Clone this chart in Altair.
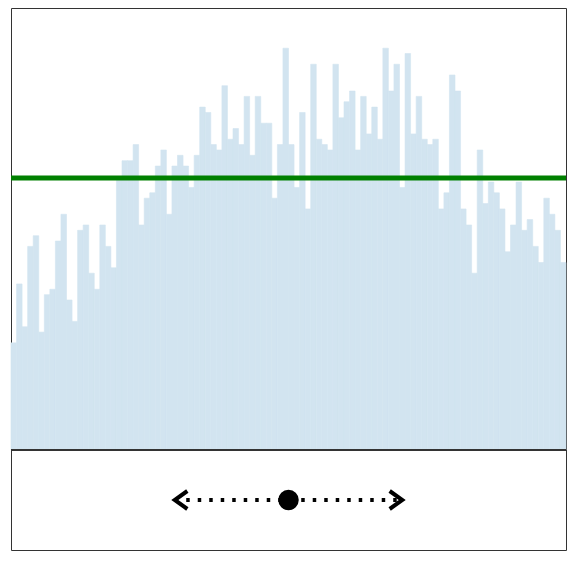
import altair as alt
import pandas as pd

counts = [20, 31, 23, 38, 40, 22, 29, 30, 39, 44,
          28, 24, 41, 42, 33, 30, 42, 38, 34, 51,
          54, 54, 57, 42, 47, 48, 53, 56, 44, 53,
          55, 53, 49, 55, 64, 63, 57, 56, 68, 58,
          60, 57, 66, 55, 66, 61, 61, 47, 57, 75,
          57, 49, 63, 45, 72, 58, 57, 56, 72, 62,
          65, 67, 56, 66, 59, 64, 58, 75, 67, 72,
          49, 74, 59, 66, 58, 57, 58, 45, 48, 70,
          67, 45, 42, 33, 56, 46, 50, 48, 45, 37,
          42, 50, 41, 43, 38, 35, 47, 44, 41, 35]
bins = list(range(len(counts)))

slider_center = [50]
slider_left = [29.5]
slider_right = [70.5]

W, H_TOP, H_BOT = 555, 442, 100
H = H_TOP + H_BOT

df = pd.DataFrame({"bin": bins, "count": counts})

xs = alt.Scale(domain=[0, 100], nice=False, zero=False)
ys = alt.Scale(domain=[0, 82.5], nice=False, range=[H_TOP, 0])

bars = alt.Chart(df).transform_calculate(end="datum.bin + 1").mark_bar(
    color="#d2e4f0", opacity=1, stroke="#d2e4f0", strokeWidth=0.6
).encode(
    x=alt.X("bin:Q", scale=xs, axis=None),
    x2="end:Q",
    y=alt.Y("count:Q", scale=ys, axis=None),
    y2=alt.datum(0),
)

mean_line = alt.Chart(df).mark_rule(color="#008000", strokeWidth=5).encode(
    y=alt.Y("mean(count):Q", scale=ys, axis=None)
)

base_line = alt.Chart(df).mark_rule(color="#333333", strokeWidth=2).encode(
    y=alt.datum(0, scale=ys)
)

top = alt.layer(bars, mean_line, base_line)

sdf = pd.DataFrame({"left": slider_left, "center": slider_center, "right": slider_right, "yy": [0]})
ysb = alt.Scale(domain=[-1, 1], range=[H, H_TOP])

dotted = alt.Chart(sdf).mark_rule(
    color="black", strokeWidth=4, strokeDash=[3.5, 8]
).encode(
    x=alt.X("left:Q", scale=xs, axis=None),
    x2="right:Q",
    y=alt.Y("yy:Q", scale=ysb, axis=None),
)

left_chev = alt.Chart(sdf).mark_point(
    shape="M1.4,-1L0,0L1.4,1", filled=False, stroke="black", strokeWidth=4,
    size=324, opacity=1, strokeJoin="miter"
).encode(
    x=alt.X("left:Q", scale=xs, axis=None),
    y=alt.Y("yy:Q", scale=ysb, axis=None),
)

right_chev = alt.Chart(sdf).mark_point(
    shape="M-1.4,-1L0,0L-1.4,1", filled=False, stroke="black", strokeWidth=4,
    size=324, opacity=1, strokeJoin="miter"
).encode(
    x=alt.X("right:Q", scale=xs, axis=None),
    y=alt.Y("yy:Q", scale=ysb, axis=None),
)

dot = alt.Chart(sdf).mark_circle(color="black", size=420, opacity=1).encode(
    x=alt.X("center:Q", scale=xs, axis=None),
    y=alt.Y("yy:Q", scale=ysb, axis=None),
)

bottom = alt.layer(dotted, left_chev, right_chev, dot)

chart = alt.layer(top, bottom).resolve_scale(y="independent").properties(
    width=W, height=H,
    padding={"left": 3, "top": 0, "right": 1, "bottom": 1},
    autosize=alt.AutoSizeParams(type="none"),
).configure_view(stroke="#333333", strokeWidth=1)

chart.save("out.html", embed_options={"renderer": "svg", "actions": False})
